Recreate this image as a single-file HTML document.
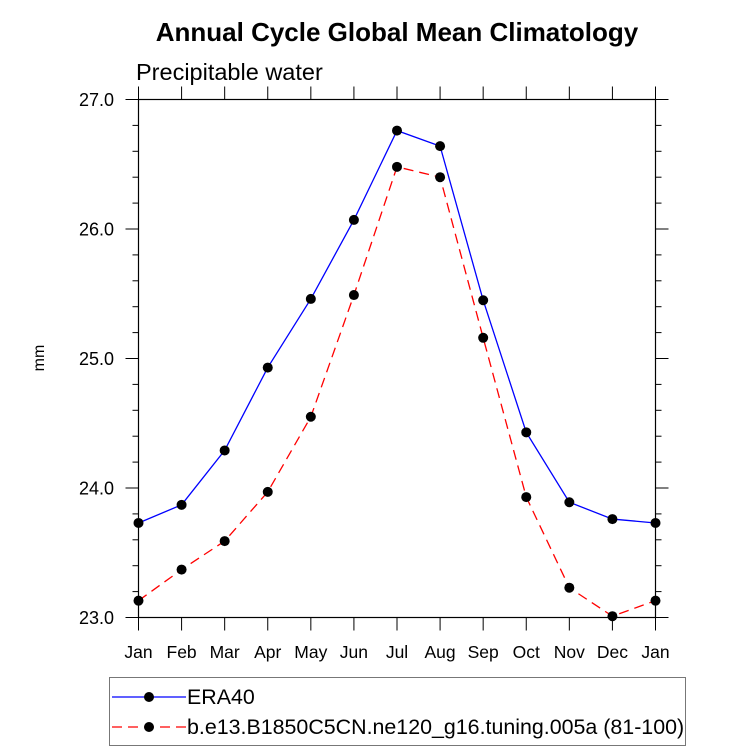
<!DOCTYPE html>
<html><head><meta charset="utf-8"><style>body{margin:0;background:#fff}svg{display:block;font-family:"Liberation Sans",sans-serif}</style></head>
<body>
<svg id="chart" width="733" height="753" xmlns="http://www.w3.org/2000/svg">
<text x="397" y="41" text-anchor="middle" font-size="26" font-weight="bold">Annual Cycle Global Mean Climatology</text>
<text x="136" y="80" font-size="23.5">Precipitable water</text>
<text transform="translate(44,358) rotate(-90)" text-anchor="middle" font-size="16">mm</text>
<g id="axes"></g>
<g id="series"></g>
<g id="legend">
<rect x="109.5" y="677.5" width="576" height="68" fill="none" stroke="#777"/>
<line x1="112" y1="697" x2="186" y2="697" stroke="#0000ff" stroke-width="1.3"/>
<circle cx="149" cy="697" r="5" fill="#000"/>
<text x="187" y="704" font-size="21.4">ERA40</text>
<line x1="112" y1="727" x2="186" y2="727" stroke="#ff0000" stroke-width="1.3" stroke-dasharray="10,6"/>
<circle cx="149" cy="727" r="5" fill="#000"/>
<text x="187" y="734" font-size="21.4">b.e13.B1850C5CN.ne120_g16.tuning.005a (81-100)</text>
</g>
</svg>
<script>
const months=["Jan","Feb","Mar","Apr","May","Jun","Jul","Aug","Sep","Oct","Nov","Dec","Jan"];
const era40=[23.73,23.87,24.29,24.93,25.46,26.07,26.76,26.64,25.45,24.43,23.89,23.76,23.73];
const model=[23.13,23.37,23.59,23.97,24.55,25.49,26.48,26.40,25.16,23.93,23.23,23.01,23.13];
const yTicks=["23.0","24.0","25.0","26.0","27.0"];
const NS="http://www.w3.org/2000/svg";
const X0=138.5,XR=655.5,Y0=617.5,Y1=99.5,ymin=23,ymax=27;
const xs=i=>X0+(XR-X0)*i/(months.length-1);
const ys=v=>Y0-(Y0-Y1)*(v-ymin)/(ymax-ymin);
function mk(t,a,p){const e=document.createElementNS(NS,t);for(const k in a)e.setAttribute(k,a[k]);p.appendChild(e);return e;}
const ax=document.getElementById('axes');
const fr=mk('rect',{x:X0,y:Y1,width:XR-X0,height:Y0-Y1,fill:'none',stroke:'#000','stroke-width':1.2},ax);


months.forEach((m,i)=>{const x=xs(i);
mk('line',{x1:x,y1:Y0,x2:x,y2:Y0+13,stroke:'#000'},ax);
mk('line',{x1:x,y1:Y1,x2:x,y2:Y1-13,stroke:'#000'},ax);
const t=mk('text',{x:x,y:658,'text-anchor':'middle','font-size':17.5},ax);t.textContent=m;

});
for(let v=ymin;v<=ymax+1e-9;v+=0.2){const y=ys(v);const maj=Math.abs(v-Math.round(v))<1e-6;const L=maj?13:6;
mk('line',{x1:X0,y1:y,x2:X0-L,y2:y,stroke:'#000'},ax);
mk('line',{x1:XR,y1:y,x2:XR+L,y2:y,stroke:'#000'},ax);}
yTicks.forEach(s=>{const t=mk('text',{x:114,y:ys(parseFloat(s))+6.5,'text-anchor':'end','font-size':18},ax);t.textContent=s;

});
const sg=document.getElementById('series');
function series(d,col,dash,name){const p=mk('polyline',{points:d.map((v,i)=>xs(i)+','+ys(v)).join(' '),fill:'none',stroke:col,'stroke-width':1.3,'stroke-dasharray':dash},sg);


d.forEach((v,i)=>{const c=mk('circle',{cx:xs(i),cy:ys(v),r:5,fill:'#000'},sg);

});}
series(era40,'#0000ff','none','era40');
series(model,'#ff0000','10,6','model');
</script>
</body></html>
